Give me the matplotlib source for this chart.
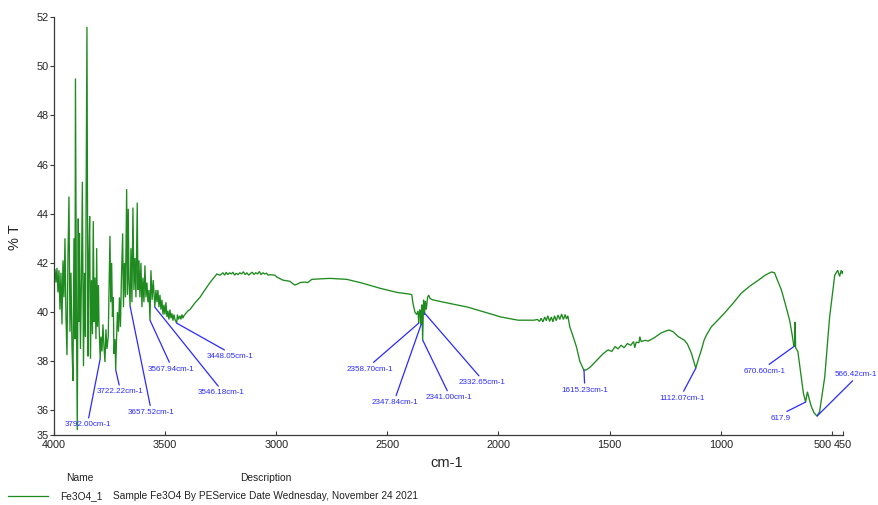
import numpy as np
import matplotlib
matplotlib.use("Agg")
import matplotlib.pyplot as plt
from matplotlib import font_manager
from matplotlib.lines import Line2D

_names = {f.name for f in font_manager.fontManager.ttflist}
NARROW = "Liberation Sans Narrow" if "Liberation Sans Narrow" in _names else "Liberation Sans"
plt.rcParams["font.family"] = ["Liberation Sans", "DejaVu Sans"]

# ---- spectrum: O-H stretch region (noisy), cm-1 / %T ----
wn_oh = [4000, 3995.5, 3991, 3986.5, 3982, 3977.5, 3973, 3968.5, 3964, 3959.5,
         3955, 3950.5, 3946, 3941.5, 3937, 3932.5, 3928, 3923.5, 3919, 3914.5,
         3910, 3905.5, 3903.3, 3898.8, 3895.2, 3890.7, 3887.6, 3885.3, 3880.8, 3876.3,
         3872.3, 3867.3, 3862.8, 3858.3, 3851.6, 3847.1, 3843.5, 3839.4, 3835.8, 3831.3,
         3826.8, 3823.2, 3819.2, 3815.6, 3811.1, 3808, 3804.4, 3799.9, 3797.6, 3792.00,
         3788.6, 3784.1, 3779.6, 3775.1, 3770.6, 3766.1, 3761.6, 3755.8, 3752.6, 3748.1,
         3744.5, 3740.5, 3736.9, 3733.3, 3730.1, 3725.6, 3722.22, 3718.9, 3714.4, 3709.9,
         3705.4, 3700.9, 3696.4, 3691, 3687.4, 3682.9, 3678.4, 3673, 3669.4, 3665.8,
         3662.7, 3657.52, 3653.7, 3649.2, 3644.7, 3640.2, 3635.7, 3631.2, 3625.3, 3622.2,
         3617.7, 3613.2, 3608.7, 3604.2, 3599.7, 3595.2, 3590.7, 3586.2, 3581.7, 3577.2,
         3572.7, 3567.94, 3563.7, 3558.3, 3553.3, 3546.18, 3541.2, 3536.7, 3532.2, 3527.7,
         3523.2, 3518.7, 3514.2, 3509.7, 3505.2, 3500.7, 3496.2, 3491.7, 3487.2, 3482.7,
         3478.2, 3473.7, 3469.2, 3464.7, 3460.2, 3455.7, 3448.05, 3444.5, 3440, 3433.3,
         3428.8, 3424.3, 3419.8, 3415.3, 3406.3, 3397.3, 3388.3]
t_oh = [41.4, 41.75, 41.2, 41.8, 40.8, 41.7, 40.1, 41.6, 39.5, 42.1,
        40.6, 43.0, 39.8, 38.25, 42.3, 44.7, 39.2, 41.6, 38.6, 37.2,
        43.0, 38.9, 49.5, 39.7, 35.2, 43.8, 39.6, 43.2, 38.5, 41.4,
        45.3, 37.8, 41.6, 39.0, 51.6, 38.2, 41.9, 43.9, 38.1, 41.3,
        39.1, 43.7, 39.6, 41.4, 38.9, 42.6, 39.4, 41.1, 39.6, 38.1,
        39.0, 38.4, 39.5, 38.6, 37.97, 39.3, 38.5, 39.0, 40.8, 43.1,
        40.4, 42.0, 39.8, 40.6, 38.3, 38.9, 37.65, 38.8, 40.0, 39.2,
        40.6, 39.4, 41.4, 43.2, 40.2, 42.0, 40.6, 45.0, 40.7, 44.2,
        41.3, 40.24, 42.6, 40.4, 44.25, 40.9, 42.2, 40.6, 44.45, 40.9,
        42.1, 40.6, 42.0, 40.2, 41.4, 40.4, 41.9, 40.6, 41.2, 40.4,
        40.9, 39.67, 41.7, 40.5, 41.3, 40.2, 40.9, 40.4, 40.9, 40.2,
        40.7, 40.1, 40.5, 39.9, 40.3, 39.9, 40.4, 39.8, 40.05, 39.7,
        40.1, 39.75, 39.95, 39.65, 39.9, 39.7, 39.55, 39.9, 39.7, 39.85,
        39.7, 39.9, 39.75, 39.85, 39.95, 40.05, 40.1]

# ---- spectrum: 3370-1540 cm-1 ----
wn_mid = [3366, 3343, 3321, 3298, 3280, 3267, 3253, 3240, 3232, 3225,
          3218, 3210, 3202, 3195, 3187, 3180, 3172, 3164, 3156, 3148,
          3140, 3132, 3124, 3116, 3108, 3100, 3092, 3084, 3076, 3068,
          3060, 3052, 3044, 3036, 3028, 3006, 2997, 2970, 2938, 2925,
          2916, 2902, 2893, 2871, 2858, 2840, 2804, 2758, 2682, 2610,
          2534, 2457, 2399, 2390, 2385, 2376, 2368, 2362, 2358.70, 2354,
          2350, 2347.84, 2345, 2341.00, 2337, 2334, 2332.65, 2329, 2325, 2319,
          2314, 2308, 2296, 2246, 2138, 1989, 1912, 1840, 1825, 1815,
          1808, 1800, 1792, 1785, 1778, 1770, 1762, 1755, 1748, 1740,
          1732, 1724, 1716, 1708, 1700, 1694, 1688, 1679, 1664, 1649,
          1634, 1619, 1615.23, 1604, 1589, 1567, 1544]
t_mid = [40.37, 40.6, 40.9, 41.2, 41.4, 41.55, 41.5, 41.6, 41.5, 41.62,
         41.52, 41.6, 41.55, 41.62, 41.5, 41.58, 41.52, 41.6, 41.55, 41.64,
         41.52, 41.6, 41.5, 41.57, 41.62, 41.53, 41.6, 41.55, 41.65, 41.52,
         41.6, 41.55, 41.58, 41.5, 41.52, 41.5, 41.42, 41.3, 41.25, 41.15,
         41.1, 41.15, 41.2, 41.22, 41.2, 41.33, 41.35, 41.37, 41.33, 41.17,
         40.97, 40.8, 40.73, 40.7, 40.37, 40.0, 39.9, 40.05, 39.55, 40.1,
         39.9, 39.5, 40.3, 38.86, 40.5, 39.9, 39.96, 40.45, 40.1, 40.6,
         40.69, 40.55, 40.5, 40.4, 40.2, 39.8, 39.67, 39.67, 39.7, 39.62,
         39.75, 39.6, 39.8, 39.65, 39.85, 39.62, 39.8, 39.6, 39.85, 39.65,
         39.88, 39.7, 39.92, 39.7, 39.9, 39.72, 39.85, 39.4, 39.0, 38.58,
         38.0, 37.7, 37.64, 37.65, 37.75, 37.95, 38.17]

# ---- spectrum: fingerprint region 1530-450 cm-1 ----
wn_fp = [1530, 1507, 1490, 1475, 1462, 1448, 1435, 1420, 1405, 1392,
         1387, 1380, 1368, 1364, 1358, 1340, 1326, 1300, 1268, 1250,
         1232, 1214, 1191, 1175, 1164, 1150, 1132, 1120, 1112.07, 1100,
         1087, 1075, 1064, 1042, 1010, 983, 950, 907, 870, 830,
         800, 772, 758, 745, 727, 710, 690, 680, 672, 670.60,
         667, 665, 663, 653, 640, 628, 617.9, 610, 600, 592,
         580, 566.42, 555, 532, 510, 487, 474, 465, 458, 452, 450]
t_fp = [38.3, 38.46, 38.4, 38.6, 38.5, 38.65, 38.55, 38.72, 38.65, 38.8,
        38.55, 38.78, 38.75, 39.0, 38.8, 38.85, 38.82, 38.95, 39.15, 39.22,
        39.27, 39.2, 39.0, 38.92, 38.86, 38.7, 38.33, 37.95, 37.72, 38.1,
        38.46, 38.85, 39.07, 39.4, 39.7, 39.96, 40.3, 40.77, 41.05, 41.3,
        41.5, 41.63, 41.6, 41.3, 40.9, 40.35, 39.67, 39.15, 38.7, 38.6,
        38.65, 39.6, 38.55, 38.4, 37.5, 36.7, 36.34, 36.76, 36.4, 36.15,
        35.9, 35.77, 35.95, 37.36, 39.8, 41.5, 41.7, 41.45, 41.7, 41.55, 41.65]

# ---- labelled bands ----
peak_wn = [3792.00, 3722.22, 3657.52, 3567.94, 3546.18, 3448.05,
           2358.70, 2347.84, 2341.00, 2332.65, 1615.23, 1112.07,
           670.60, 617.9, 566.42]
peak_text = ["3792.00cm-1", "3722.22cm-1", "3657.52cm-1", "3567.94cm-1",
             "3546.18cm-1", "3448.05cm-1", "2358.70cm-1", "2347.84cm-1",
             "2341.00cm-1", "2332.65cm-1", "1615.23cm-1", "1112.07cm-1",
             "670.60cm-1", "617.9", "566.42cm-1"]
# label placement (cm-1, %T) and which edge of the label the leader line leaves from
label_xy = [(3847, 35.41), (3703, 36.75), (3564, 35.92), (3474, 37.68),
            (3249, 36.71), (3208, 38.19), (2579, 37.68), (2466, 36.32),
            (2223, 36.52), (2075, 37.13), (1612, 36.83), (1175, 36.50),
            (802, 37.60), (730, 35.69), (392, 37.48)]
label_edge = [1, 1, 1, 1, 1, 1, 1, 1, 1, 1, 1, 1, 1, 1, 0]

x_ticks = [4000, 3500, 3000, 2500, 2000, 1500, 1000, 500, 450]
y_ticks = [35, 36, 38, 40, 42, 44, 46, 48, 50, 52]

wn = np.array(wn_oh + wn_mid + wn_fp)
tr = np.array(t_oh + t_mid + t_fp)

GREEN = "#1f8a1f"
BLUE = "#2a2aff"
AXC = "#3a3a3a"

fig = plt.figure(figsize=(8.79, 5.05), dpi=100)
ax = fig.add_axes([0.0614, 0.1386, 0.8976, 0.8277])

ax.plot(wn, tr, color=GREEN, lw=0.95, solid_joinstyle="miter")

ax.set_xlim(4000, 450)
ax.set_ylim(35, 52)
for s in ("top", "right"):
    ax.spines[s].set_visible(False)
for s in ("left", "bottom"):
    ax.spines[s].set_color(AXC)
    ax.spines[s].set_linewidth(0.9)

ax.set_xticks(x_ticks)
ax.set_xticklabels([str(v) for v in x_ticks])
for lab, v in zip(ax.get_xticklabels(), x_ticks):
    if v == 500:
        lab.set_horizontalalignment("right")
ax.set_yticks(y_ticks)
ax.tick_params(axis="x", direction="in", length=3, width=0.8, color=AXC,
               labelsize=7.8, pad=3.5, labelcolor="#222222")
ax.tick_params(axis="y", direction="out", length=3, width=0.8, color=AXC,
               labelsize=7.8, pad=0.8, labelcolor="#222222")

# annotated bands
peak_t = np.interp(peak_wn, wn[::-1], tr[::-1])
for w, t, txt, (lx, ly), edge in zip(peak_wn, peak_t, peak_text, label_xy, label_edge):
    ax.annotate(txt, xy=(w, t), xytext=(lx, ly), textcoords="data",
                ha="center", va="center", color=BLUE, fontsize=5.8,
                family=[NARROW, "DejaVu Sans"], annotation_clip=False,
                arrowprops=dict(arrowstyle="-", color=BLUE, lw=0.9,
                                relpos=(0.5, edge), shrinkA=0.5, shrinkB=0))

fig.text(0.0171, 0.531, "% T", rotation=90, ha="center", va="center",
         fontsize=10.5, color="#222222")
fig.text(0.5085, 0.083, "cm-1", ha="center", va="center", fontsize=10.5,
         color="#222222")

# legend block
fig.text(0.091, 0.0535, "Name", ha="center", va="center", fontsize=7.4, color="#222222")
fig.text(0.3026, 0.0535, "Description", ha="center", va="center", fontsize=7.4,
         color="#222222")
fig.add_artist(Line2D([0.0091, 0.0546], [0.0178, 0.0178], color=GREEN, lw=0.9,
                      transform=fig.transFigure))
fig.text(0.0683, 0.0178, "Fe3O4_1", ha="left", va="center", fontsize=7.3, color="#222222")
fig.text(0.1286, 0.0178, "Sample Fe3O4 By PEService Date Wednesday, November 24 2021",
         ha="left", va="center", fontsize=7.3, color="#222222")

fig.savefig("out.png", dpi=100)
